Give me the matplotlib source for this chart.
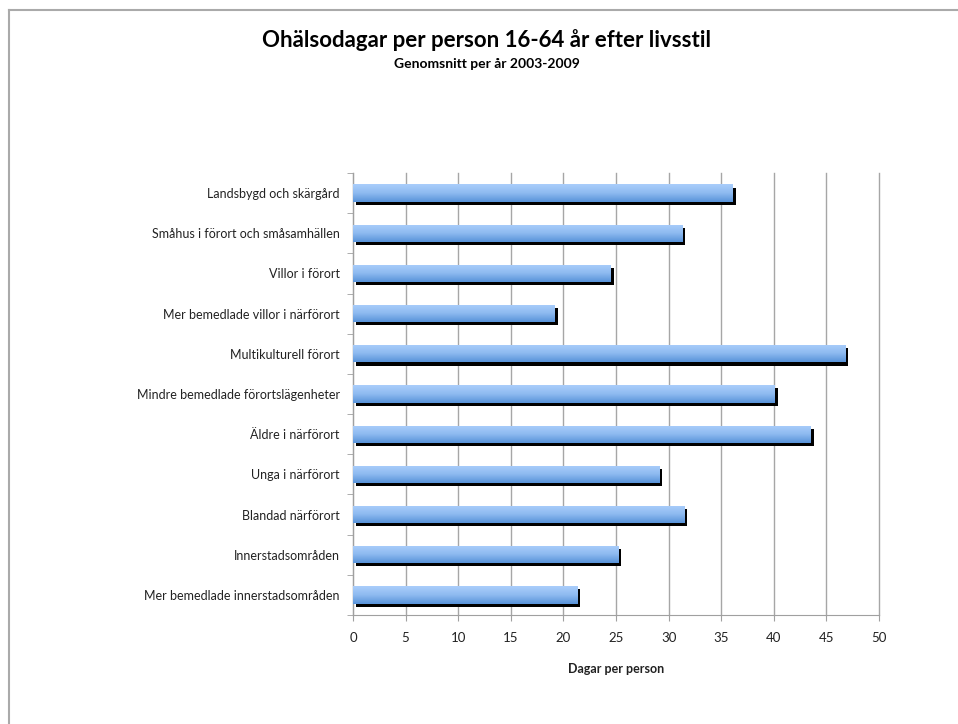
import numpy as np
import matplotlib
matplotlib.use('Agg')
import matplotlib.pyplot as plt
import matplotlib.patheffects as pe
from matplotlib.colors import LinearSegmentedColormap
from matplotlib.lines import Line2D

# data
categories = ['Landsbygd och skärgård',
              'Småhus i förort och småsamhällen',
              'Villor i förort',
              'Mer bemedlade villor i närförort',
              'Multikulturell förort',
              'Mindre bemedlade förortslägenheter',
              'Äldre i närförort',
              'Unga i närförort',
              'Blandad närförort',
              'Innerstadsområden',
              'Mer bemedlade innerstadsområden']
dagar = [36.1, 31.3, 24.5, 19.2, 46.8, 40.1, 43.5, 29.1, 31.5, 25.2, 21.3]
xticks = [0, 5, 10, 15, 20, 25, 30, 35, 40, 45, 50]

plt.rcParams['font.family'] = ['Lato', 'DejaVu Sans']

fig = plt.figure(figsize=(9.58, 7.24), dpi=100)
ax = fig.add_axes([0.3685, 0.1506, 0.549, 0.6104])

n = len(categories)
ypos = np.arange(n)[::-1]
cmap = LinearSegmentedColormap.from_list('blue', ['#aacefb', '#8ebaf0', '#5893d9'])
grad = np.linspace(0, 1, 64).reshape(-1, 1)

# bars with a black drop shadow, filled with a vertical gradient
bars = ax.barh(ypos, dagar, height=0.43, color='#7aaae6', zorder=3,
               path_effects=[pe.SimplePatchShadow(offset=(2.2, -2.2), shadow_rgbFace='black', alpha=1.0),
                             pe.Normal()])
for b in bars:
    x0, y0 = b.get_x(), b.get_y()
    im = ax.imshow(grad, extent=[x0, x0 + b.get_width(), y0, y0 + b.get_height()],
                   aspect='auto', cmap=cmap, zorder=4, interpolation='bicubic')
    im.set_clip_path(b)

ax.set_xlim(0, 50)
ax.set_ylim(-0.5, n - 0.5)
ax.set_xticks(xticks)
ax.set_yticks(ypos)
ax.set_yticklabels(categories)
ax.set_yticks(np.arange(-0.5, n, 1), minor=True)
ax.tick_params(axis='y', which='major', length=0, pad=9.5, labelsize=9, labelcolor='#222222')
ax.tick_params(axis='y', which='minor', length=4, color='#a0a0a0')
ax.tick_params(axis='x', length=4, color='#a0a0a0', labelsize=9.5, labelcolor='#222222', pad=8)
ax.grid(axis='x', color='#a6a6a6', linewidth=1, zorder=0)
for gl in ax.get_xgridlines():
    gl.set_clip_on(False)
ax.set_axisbelow(True)
for s in ['top', 'right']:
    ax.spines[s].set_visible(False)
for s in ['left', 'bottom']:
    ax.spines[s].set_color('#a0a0a0')
ax.set_xlabel('Dagar per person', fontsize=9, fontweight='bold', labelpad=14, color='#222222')

fig.text(0.508, 0.945, 'Ohälsodagar per person 16-64 år efter livsstil',
         ha='center', va='center', fontsize=16, fontweight='bold')
fig.text(0.508, 0.912, 'Genomsnitt per år 2003-2009',
         ha='center', va='center', fontsize=10, fontweight='bold')

# outer frame (left and top edges)
fig.add_artist(Line2D([0.0094, 0.0094], [0, 0.986], color='#aaaaaa', linewidth=1.5,
                      transform=fig.transFigure))
fig.add_artist(Line2D([0.0094, 1.0], [0.986, 0.986], color='#aaaaaa', linewidth=1.5,
                      transform=fig.transFigure))

plt.savefig('out.png', dpi=100)
